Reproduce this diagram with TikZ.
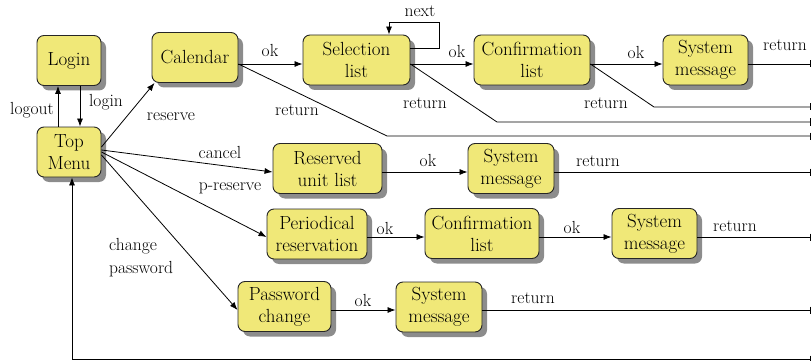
\documentclass[tikz,border=0pt]{standalone}
\usetikzlibrary{arrows.meta,shadows}
\definecolor{boxfill}{RGB}{240,232,120}
\begin{document}
\begin{tikzpicture}[x=1pt,y=-1pt,
  box/.style={draw=black!85, line width=0.9pt, fill=boxfill, rounded corners=7pt,
    minimum height=50pt, inner sep=0pt, align=center,
    font=\fontsize{19}{22}\selectfont,
    drop shadow={shadow xshift=5pt, shadow yshift=-5pt, fill=black, opacity=0.45}},
  lbl/.style={font=\fontsize{17.5}{20}\selectfont, inner sep=0pt},
  flow/.style={line width=0.8pt, -{Latex[length=8pt,width=6pt]}},
  bus/.style={line width=0.8pt, -{Bar[width=7pt,line width=0.8pt]}}]
\useasboundingbox (0,0) rectangle (812,361);

% screens
\node[box, minimum width=64pt]  (login) at (69,60.5)    {Login};
\node[box, minimum width=64pt]  (top)   at (69,152)     {Top\\Menu};
\node[box, minimum width=86pt]  (cal)   at (195,57.5)   {Calendar};
\node[box, minimum width=107pt] (sel)   at (356.5,60)   {Selection\\list};
\node[box, minimum width=116pt] (conf1) at (532,60)     {Confirmation\\list};
\node[box, minimum width=85pt]  (sys1)  at (705.5,60)   {System\\message};
\node[box, minimum width=109pt] (res)   at (327.5,168.5){Reserved\\unit list};
\node[box, minimum width=86pt]  (sys2)  at (511,168.5)  {System\\message};
\node[box, minimum width=100pt] (per)   at (317,234)    {Periodical\\reservation};
\node[box, minimum width=114pt] (conf2) at (482,233.5)  {Confirmation\\list};
\node[box, minimum width=85pt]  (sys3)  at (654.5,233.5){System\\message};
\node[box, minimum width=93pt]  (pw)    at (284.5,306.5){Password\\change};
\node[box, minimum width=86pt]  (sys4)  at (439,307)    {System\\message};

% row levels of the horizontal flows
\coordinate (r1) at (0,64);
\coordinate (r2) at (0,172);
\coordinate (r3) at (0,237);
\coordinate (r4) at (0,310);

% free ends of the return lines at the right edge
\coordinate (e0) at (811,64);
\coordinate (e1) at (811,107);
\coordinate (e2) at (811,122);
\coordinate (e3) at (811,136);
\coordinate (e4) at (811,172);
\coordinate (e5) at (811,237);
\coordinate (e6) at (811,310);
\coordinate (e7) at (811,359);
\coordinate (k1) at (654,107);
\coordinate (k2) at (497,122);
\coordinate (k3) at (387,136);

% login / logout
\draw[flow] ([xshift=11pt]login.south) -- ([xshift=11pt]top.north);
\draw[flow] ([xshift=-11pt]top.north) -- ([xshift=-11pt]login.south);
\node[lbl] at (106,102) {login};
\node[lbl] at (32,110) {logout};

% branches from the top menu
\draw[flow] ([yshift=5pt]top.east) -- ([xshift=3pt]cal.south west);
\draw[flow] ([yshift=2pt]top.east) -- (res.west |- r2);
\draw[flow] (top.east) -- (per.west |- r3);
\draw[flow] ([yshift=-3pt]top.east) -- (pw.west |- r4);
\node[lbl] at (171,117) {reserve};
\node[lbl] at (220,152) {cancel};
\node[lbl] at (230,188) {p-reserve};
\node[lbl, anchor=west, align=left, font=\fontsize{17.5}{23}\selectfont] at (109,258) {change\\password};

% reservation row
\draw[flow] (cal.east |- r1) -- (sel.west |- r1);
\draw[flow] (sel.east |- r1) -- (conf1.west |- r1);
\draw[flow] (conf1.east |- r1) -- (sys1.west |- r1);
\draw[flow] ([yshift=12pt]sel.east) -- ++(29,0) -- ++(0,-26) -| ([xshift=32.5pt]sel.north);
\node[lbl] at (270,50) {ok};
\node[lbl] at (457,51) {ok};
\node[lbl] at (636,52) {ok};
\node[lbl] at (420,11) {next};

\draw[bus] (sys1.east |- r1) -- (e0);
\draw[bus] (conf1.east |- r1) -- (k1) -- (e1);
\draw[bus] (sel.east |- r1) -- (k2) -- (e2);
\draw[bus] (cal.east |- r1) -- (k3) -- (e3);
\node[lbl] at (785,45) {return};
\node[lbl] at (606,103) {return};
\node[lbl] at (425,103) {return};
\node[lbl] at (297,110) {return};

% cancel row
\draw[flow] (res.east |- r2) -- (sys2.west |- r2);
\draw[bus] (sys2.east |- r2) -- (e4);
\node[lbl] at (428,160) {ok};
\node[lbl] at (598,161) {return};

% periodical reservation row
\draw[flow] (per.east |- r3) -- (conf2.west |- r3);
\draw[flow] (conf2.east |- r3) -- (sys3.west |- r3);
\draw[bus] (sys3.east |- r3) -- (e5);
\node[lbl] at (385,228) {ok};
\node[lbl] at (572,227) {ok};
\node[lbl] at (735,226) {return};

% password row
\draw[flow] (pw.east |- r4) -- (sys4.west |- r4);
\draw[bus] (sys4.east |- r4) -- (e6);
\node[lbl] at (363,300) {ok};
\node[lbl] at (533,298) {return};

% back to the top menu
\draw[line width=0.8pt, {Bar[width=7pt,line width=0.8pt]}-{Latex[length=8pt,width=6pt]}]
  (e7) -| ([xshift=3pt]top.south);
\end{tikzpicture}
\end{document}
